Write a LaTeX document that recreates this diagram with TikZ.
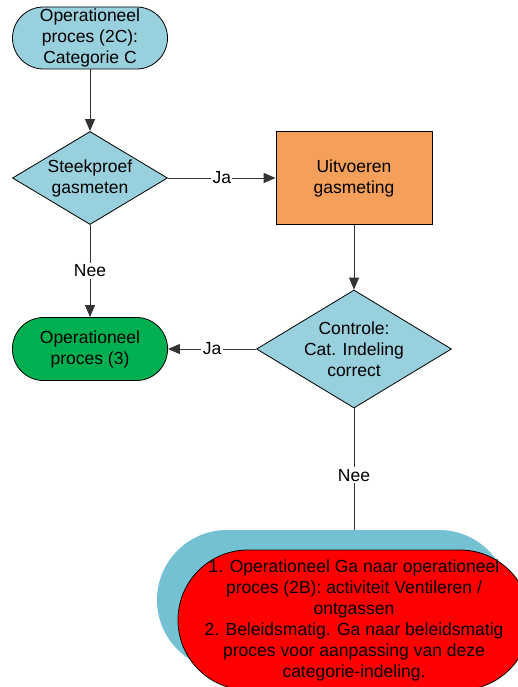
\documentclass[tikz,border=0pt]{standalone}
\usepackage{fontspec}
\setmainfont{Liberation Sans}
\usetikzlibrary{shapes.geometric,arrows.meta}
\definecolor{procblue}{RGB}{153,208,221}
\definecolor{shadowblue}{RGB}{116,193,211}
\definecolor{measorange}{RGB}{245,160,90}
\definecolor{procgreen}{RGB}{0,176,80}
\begin{document}
\begin{tikzpicture}[x=1pt, y=-1pt, >={Triangle[length=12pt,width=10pt]},
        nodes={draw=black, line width=0.8pt, font=\fontsize{17.5}{21}\selectfont, align=center, inner sep=0pt},
        proces/.style={rectangle, rounded corners=31pt, fill=procblue, minimum width=155pt, minimum height=62pt},
        keuze/.style={diamond, fill=procblue, shape aspect=1.65},
        antwoord/.style={draw=none, fill=white, inner sep=1.5pt},
        lijn/.style={draw=black!80, line width=1pt}]
    \useasboundingbox (0,0) rectangle (518,687);
    \clip (0,0) rectangle (518,687);
    \node[proces] (start) at (90,38) {Operationeel\\proces (2C):\\Categorie C};
    \node[keuze, minimum width=155pt, minimum height=93pt] (steekproef) at (90,178) {Steekproef\\gasmeten};
    \node[rectangle, fill=measorange, minimum width=156pt, minimum height=93pt] (meting) at (354,178) {Uitvoeren\\gasmeting};
    \node[keuze, minimum width=195pt, minimum height=118pt] (controle) at (354,349) {Controle:\\Cat. Indeling\\correct};
    \node[proces, fill=procgreen, minimum height=63pt] (operationeel) at (90,349) {Operationeel\\proces (3)};
    \node[rectangle, draw=none, fill=shadowblue, rounded corners=70pt, minimum width=352pt, minimum height=140pt] (schaduw) at (333,600) {};
    \node[rectangle, fill=red, rounded corners=70pt, minimum width=352pt, minimum height=140pt] (actie) at (354,620) {1. Operationeel Ga naar operationeel\\proces (2B): activiteit Ventileren /\\ontgassen\\2. Beleidsmatig. Ga naar beleidsmatig\\proces voor aanpassing van deze\\categorie-indeling.};
    \draw[lijn, ->] (start) -- (steekproef);
    \draw[lijn, ->] (steekproef) -- node[antwoord] {Ja} (meting);
    \draw[lijn, ->] (steekproef) -- node[antwoord] {Nee} (operationeel);
    \draw[lijn, ->] (meting) -- (controle);
    \draw[lijn, ->] (controle) -- node[antwoord] {Ja} (operationeel);
    \draw[lijn] (controle.south) -- node[antwoord, pos=0.55] {Nee} (controle.south |- schaduw.north);
\end{tikzpicture}
\end{document}
